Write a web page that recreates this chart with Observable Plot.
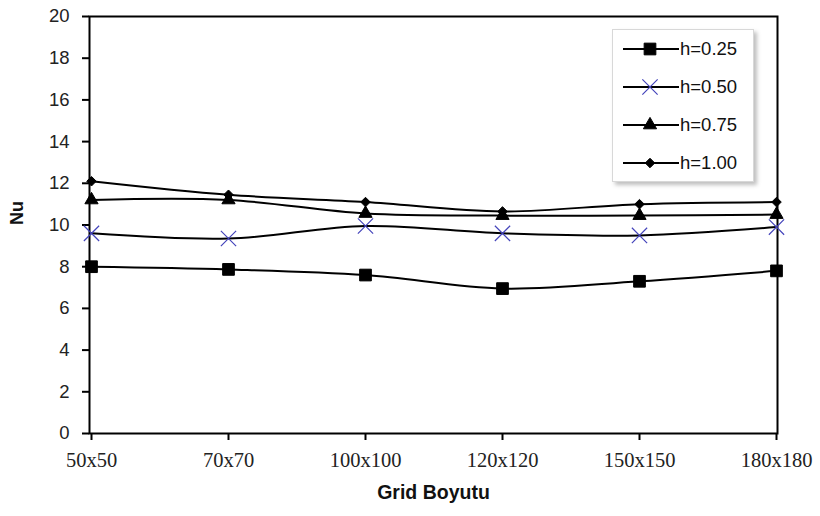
<!DOCTYPE html>
<html>
<head>
<meta charset="utf-8">
<script src="https://cdn.jsdelivr.net/npm/d3@7"></script>
<script src="https://cdn.jsdelivr.net/npm/@observablehq/plot@0.6"></script>
<style>
  html, body { margin: 0; padding: 0; background: #fff; }
  #wrap { position: relative; width: 820px; height: 516px; }
  #legend {
    position: absolute; left: 612px; top: 29px; width: 140px; height: 151px;
    background: #fff; border: 1px solid #d8d8d8;
    box-shadow: 3px 3px 4px rgba(0,0,0,0.25);
    font-family: "Liberation Sans", Arial, sans-serif; font-size: 18.5px; color: #111;
  }
  .item { position: absolute; left: 10px; height: 20px; display: flex; align-items: center; }
  .item svg { margin-right: 1px; }
</style>
</head>
<body>
<div id="wrap">
  <div id="chart"></div>
  <div id="legend"></div>
</div>
<script>
const categories = ["50x50", "70x70", "100x100", "120x120", "150x150", "180x180"];
const seriesNames = ["h=0.25", "h=0.50", "h=0.75", "h=1.00"];
const h025 = [8.0, 7.87, 7.6, 6.95, 7.3, 7.8];
const h050 = [9.6, 9.35, 9.95, 9.6, 9.5, 9.9];
const h075 = [11.2, 11.2, 10.55, 10.45, 10.45, 10.5];
const h100 = [12.1, 11.45, 11.1, 10.65, 11.0, 11.1];
const yTicks = [0, 2, 4, 6, 8, 10, 12, 14, 16, 18, 20];

const seriesValues = [h025, h050, h075, h100];
const symbols = ["square", "times", "triangle", "diamond2"];
const symbolColors = ["black", "#4444bb", "black", "black"];
const symbolRadii = [6.6, 7, 4.9, 4.3];

const rows = [];
seriesValues.forEach((vals, si) => {
  vals.forEach((v, i) => rows.push({series: seriesNames[si], cat: categories[i], nu: v}));
});

const marks = [];
seriesNames.forEach((name, si) => {
  const data = rows.filter(d => d.series === name);
  marks.push(Plot.line(data, {x: "cat", y: "nu", curve: "catmull-rom", stroke: "black", strokeWidth: 2}));
});
seriesNames.forEach((name, si) => {
  const data = rows.filter(d => d.series === name);
  const isStroke = symbols[si] === "times";
  marks.push(Plot.dot(data, {
    x: "cat", y: "nu", symbol: () => symbols[si], r: symbolRadii[si],
    fill: isStroke ? "none" : symbolColors[si],
    stroke: symbolColors[si], strokeWidth: isStroke ? 1.2 : 1
  }));
});

const chart = Plot.plot({
  width: 820, height: 516,
  marginLeft: 89, marginRight: 43, marginTop: 16, marginBottom: 83,
  style: {background: "#fff", overflow: "visible"},
  symbol: {type: "identity"},
  x: {type: "point", domain: categories, padding: 0},
  y: {domain: [0, 20]},
  marks: [
    Plot.axisY({ticks: yTicks, tickSize: 7, tickPadding: 13, fontSize: 18.5, label: null,
      fontFamily: "Liberation Sans, Arial, sans-serif", stroke: "black", strokeWidth: 2, color: "#222"}),
    Plot.axisX({tickSize: 7, tickPadding: 12, fontSize: 20.5, label: null,
      fontFamily: "Liberation Serif, Times New Roman, serif", stroke: "black", strokeWidth: 2, color: "#222"}),
    Plot.frame({stroke: "black", strokeWidth: 2}),
    ...marks,
    Plot.text(["Nu"], {frameAnchor: "left", dx: -72, rotate: -90, fontSize: 18, fontWeight: "bold",
      fontFamily: "Liberation Sans, Arial, sans-serif", fill: "#111"}),
    Plot.text(["Grid Boyutu"], {frameAnchor: "bottom", dy: 65, fontSize: 19.5, fontWeight: "bold",
      fontFamily: "Liberation Sans, Arial, sans-serif", fill: "#111"})
  ]
});
document.getElementById("chart").appendChild(chart);

// Legend
const legend = document.getElementById("legend");
const itemTops = [9, 47, 85, 123];
const symMap = {square: d3.symbolSquare, times: d3.symbolTimes, triangle: d3.symbolTriangle, diamond2: d3.symbolDiamond2};
seriesNames.forEach((name, si) => {
  const item = document.createElement("div");
  item.className = "item";
  item.style.top = itemTops[si] + "px";
  const svg = d3.create("svg").attr("width", 56).attr("height", 20);
  svg.append("line").attr("x1", 0).attr("x2", 56).attr("y1", 10).attr("y2", 10)
    .attr("stroke", "black").attr("stroke-width", 2);
  const isStroke = symbols[si] === "times";
  const r = symbolRadii[si];
  svg.append("path")
    .attr("transform", "translate(27,10)")
    .attr("d", d3.symbol(symMap[symbols[si]], Math.PI * r * r)())
    .attr("fill", isStroke ? "none" : symbolColors[si])
    .attr("stroke", symbolColors[si]).attr("stroke-width", isStroke ? 1.2 : 1);
  item.appendChild(svg.node());
  const span = document.createElement("span");
  span.textContent = name;
  item.appendChild(span);
  legend.appendChild(item);
});
</script>
</body>
</html>
